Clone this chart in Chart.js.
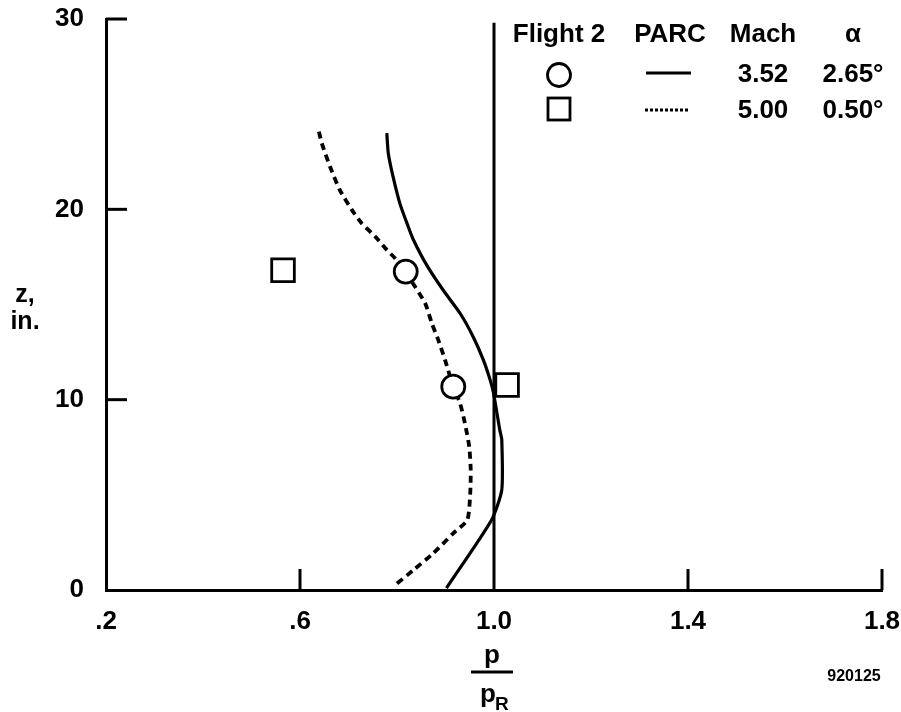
<!DOCTYPE html>
<html>
<head>
<meta charset="utf-8">
<script src="https://cdn.jsdelivr.net/npm/chart.js@4.4.1/dist/chart.umd.min.js"></script>
<style>
html,body{margin:0;padding:0;background:#fff;}
#wrap{width:901px;height:712px;}
</style>
</head>
<body>
<div id="wrap"><canvas id="c" width="901" height="712"></canvas></div>
<script>
// ---- data ----
const xTicks = [0.2, 0.6, 1.0, 1.4, 1.8];
const xTickLabels = ['.2', '.6', '1.0', '1.4', '1.8'];
const yTicks = [0, 10, 20, 30];
const yTickLabels = ['0', '10', '20', '30'];

// Flight 2 measurements
const flightCircleX = [0.818, 0.916];
const flightCircleZ = [16.73, 10.68];
const flightSquareX = [0.565, 1.027];
const flightSquareZ = [16.8, 10.77];

// PARC, Mach 3.52 (solid)
const parc352X = [0.779, 0.782, 0.792, 0.806, 0.823, 0.834, 0.861, 0.895, 0.930, 0.957, 0.978, 0.992, 0.999, 1.012, 1.016, 1.016, 0.995, 0.902];
const parc352Z = [24.0, 22.95, 21.7, 20.3, 19.1, 18.39, 17.08, 15.76, 14.54, 13.31, 12.09, 11.04, 10.35, 8.4, 7.9, 5.25, 3.68, 0.1];

// PARC, Mach 5.00 (dashed)
const parc500X = [0.639, 0.645, 0.662, 0.682, 0.707, 0.727, 0.755, 0.779, 0.796, 0.818, 0.837, 0.858, 0.872, 0.885, 0.899, 0.916, 0.930, 0.940, 0.949, 0.952, 0.951, 0.945, 0.916, 0.875, 0.834, 0.796];
const parc500Z = [24.08, 23.47, 22.24, 21.02, 19.97, 19.27, 18.57, 17.87, 17.43, 16.7, 15.94, 15.07, 14.0, 13.14, 12.09, 10.68, 9.81, 8.76, 7.53, 6.31, 5.08, 3.68, 2.98, 1.93, 1.05, 0.26];

// reference line p/pR = 1
const refLineX = [1.0, 1.0];
const refLineZ = [0, 29.8];

// texts
const legendHeaders = ['Flight 2', 'PARC', 'Mach', '\u03b1'];
const legendMach = ['3.52', '5.00'];
const legendAlpha = ['2.65\u00b0', '0.50\u00b0'];
const yTitleLines = ['z,', 'in.'];
const xTitleTop = 'p';
const xTitleBottom = 'p';
const xTitleSub = 'R';
const figureId = '920125';

// ---- chart ----
const pts = (xs, zs) => xs.map((x, i) => ({x: x, y: zs[i]}));
const FONT = '"Liberation Sans", Arial, Helvetica, sans-serif';

const decor = {
  id: 'decor',
  afterDraw(chart) {
    const ctx = chart.ctx;
    const xs = chart.scales.x, ys = chart.scales.y;
    const area = chart.chartArea;
    ctx.save();
    ctx.strokeStyle = '#000';
    ctx.lineWidth = 3;
    ctx.lineCap = 'butt';
    // inward ticks on y axis
    [10, 20, 30].forEach(v => {
      const py = ys.getPixelForValue(v);
      ctx.beginPath(); ctx.moveTo(area.left, py); ctx.lineTo(area.left + 21, py); ctx.stroke();
    });
    // inward ticks on x axis
    [0.6, 1.4, 1.8].forEach(v => {
      const px = xs.getPixelForValue(v);
      ctx.beginPath(); ctx.moveTo(px, area.bottom); ctx.lineTo(px, area.bottom - 21); ctx.stroke();
    });
    ctx.fillStyle = '#000';
    // y title
    ctx.font = 'bold 25px ' + FONT;
    ctx.textAlign = 'center';
    ctx.textBaseline = 'middle';
    ctx.fillText(yTitleLines[0], 25, 295);
    ctx.fillText(yTitleLines[1], 25, 322);
    // x title: fraction p / pR
    const cx = xs.getPixelForValue(1.0) - 2;
    ctx.font = 'bold 26px ' + FONT;
    ctx.textBaseline = 'alphabetic';
    ctx.fillText(xTitleTop, cx, 663);
    ctx.lineWidth = 3;
    ctx.beginPath(); ctx.moveTo(cx - 21, 672); ctx.lineTo(cx + 21, 672); ctx.stroke();
    ctx.textAlign = 'left';
    ctx.fillText(xTitleBottom, cx - 12, 702);
    ctx.font = 'bold 19px ' + FONT;
    ctx.fillText(xTitleSub, cx + 3, 710);
    // figure id
    ctx.font = 'bold 16px ' + FONT;
    ctx.textAlign = 'center';
    ctx.fillText(figureId, 854, 681);
    // legend table
    const colX = [559, 670, 763, 853];
    ctx.font = 'bold 26px ' + FONT;
    ctx.textBaseline = 'middle';
    legendHeaders.forEach((t, i) => ctx.fillText(t, colX[i], 35));
    const rowY = [75, 111];
    legendMach.forEach((t, i) => ctx.fillText(t, colX[2], rowY[i]));
    legendAlpha.forEach((t, i) => ctx.fillText(t, colX[3], rowY[i]));
    // legend symbols
    ctx.lineWidth = 2.8;
    ctx.beginPath(); ctx.arc(colX[0], 75, 11.5, 0, Math.PI * 2); ctx.stroke();
    ctx.strokeRect(colX[0] - 11, 98, 22, 22);
    ctx.lineWidth = 2.8;
    ctx.beginPath(); ctx.moveTo(646, 73); ctx.lineTo(691, 73); ctx.stroke();
    ctx.setLineDash([3, 2]);
    ctx.beginPath(); ctx.moveTo(645, 110); ctx.lineTo(690, 110); ctx.stroke();
    ctx.setLineDash([]);
    ctx.restore();
  }
};

new Chart(document.getElementById('c'), {
  type: 'scatter',
  data: {
    datasets: [
      {
        label: 'Flight 2 (Mach 3.52)',
        data: pts(flightCircleX, flightCircleZ),
        pointStyle: 'circle', pointRadius: 11.5,
        pointBackgroundColor: '#fff', pointBorderColor: '#000', pointBorderWidth: 2.8,
        showLine: false
      },
      {
        label: 'Flight 2 (Mach 5.00)',
        data: pts(flightSquareX, flightSquareZ),
        pointStyle: 'rect', pointRadius: 16,
        pointBackgroundColor: '#fff', pointBorderColor: '#000', pointBorderWidth: 2.8,
        showLine: false
      },
      {
        label: 'PARC Mach 3.52',
        data: pts(parc352X, parc352Z),
        showLine: true, pointRadius: 0, borderColor: '#000', borderWidth: 3.2, tension: 0.2, fill: false
      },
      {
        label: 'PARC Mach 5.00',
        data: pts(parc500X, parc500Z),
        showLine: true, pointRadius: 0, borderColor: '#000', borderWidth: 3.8, borderDash: [7, 5], tension: 0.2, fill: false
      },
      {
        label: 'p/pR = 1',
        data: pts(refLineX, refLineZ),
        showLine: true, pointRadius: 0, borderColor: '#000', borderWidth: 3, tension: 0, fill: false
      }
    ]
  },
  options: {
    responsive: false,
    animation: false,
    events: [],
    layout: {padding: {top: 19, right: 19, left: 0, bottom: 0}},
    plugins: {legend: {display: false}, tooltip: {enabled: false}},
    scales: {
      x: {
        type: 'linear', min: 0.2, max: 1.8,
        afterBuildTicks: s => { s.ticks = xTicks.map(v => ({value: v})); },
        afterFit: s => { s.height = 122; s.paddingLeft = 0; s.paddingRight = 0; },
        grid: {display: false, drawTicks: false},
        border: {display: true, color: '#000', width: 3},
        ticks: {
          color: '#000', font: {family: FONT, size: 26, weight: 'bold'},
          padding: 16, maxRotation: 0, autoSkip: false,
          callback: (v, i) => xTickLabels[i]
        }
      },
      y: {
        type: 'linear', min: 0, max: 30,
        afterBuildTicks: s => { s.ticks = yTicks.map(v => ({value: v})); },
        afterFit: s => { s.width = 106; s.paddingTop = 0; s.paddingBottom = 0; },
        grid: {display: false, drawTicks: false},
        border: {display: true, color: '#000', width: 3},
        ticks: {
          color: '#000', font: {family: FONT, size: 26, weight: 'bold'},
          padding: 22, autoSkip: false,
          callback: (v, i) => yTickLabels[i]
        }
      }
    }
  },
  plugins: [decor]
});
</script>
</body>
</html>
